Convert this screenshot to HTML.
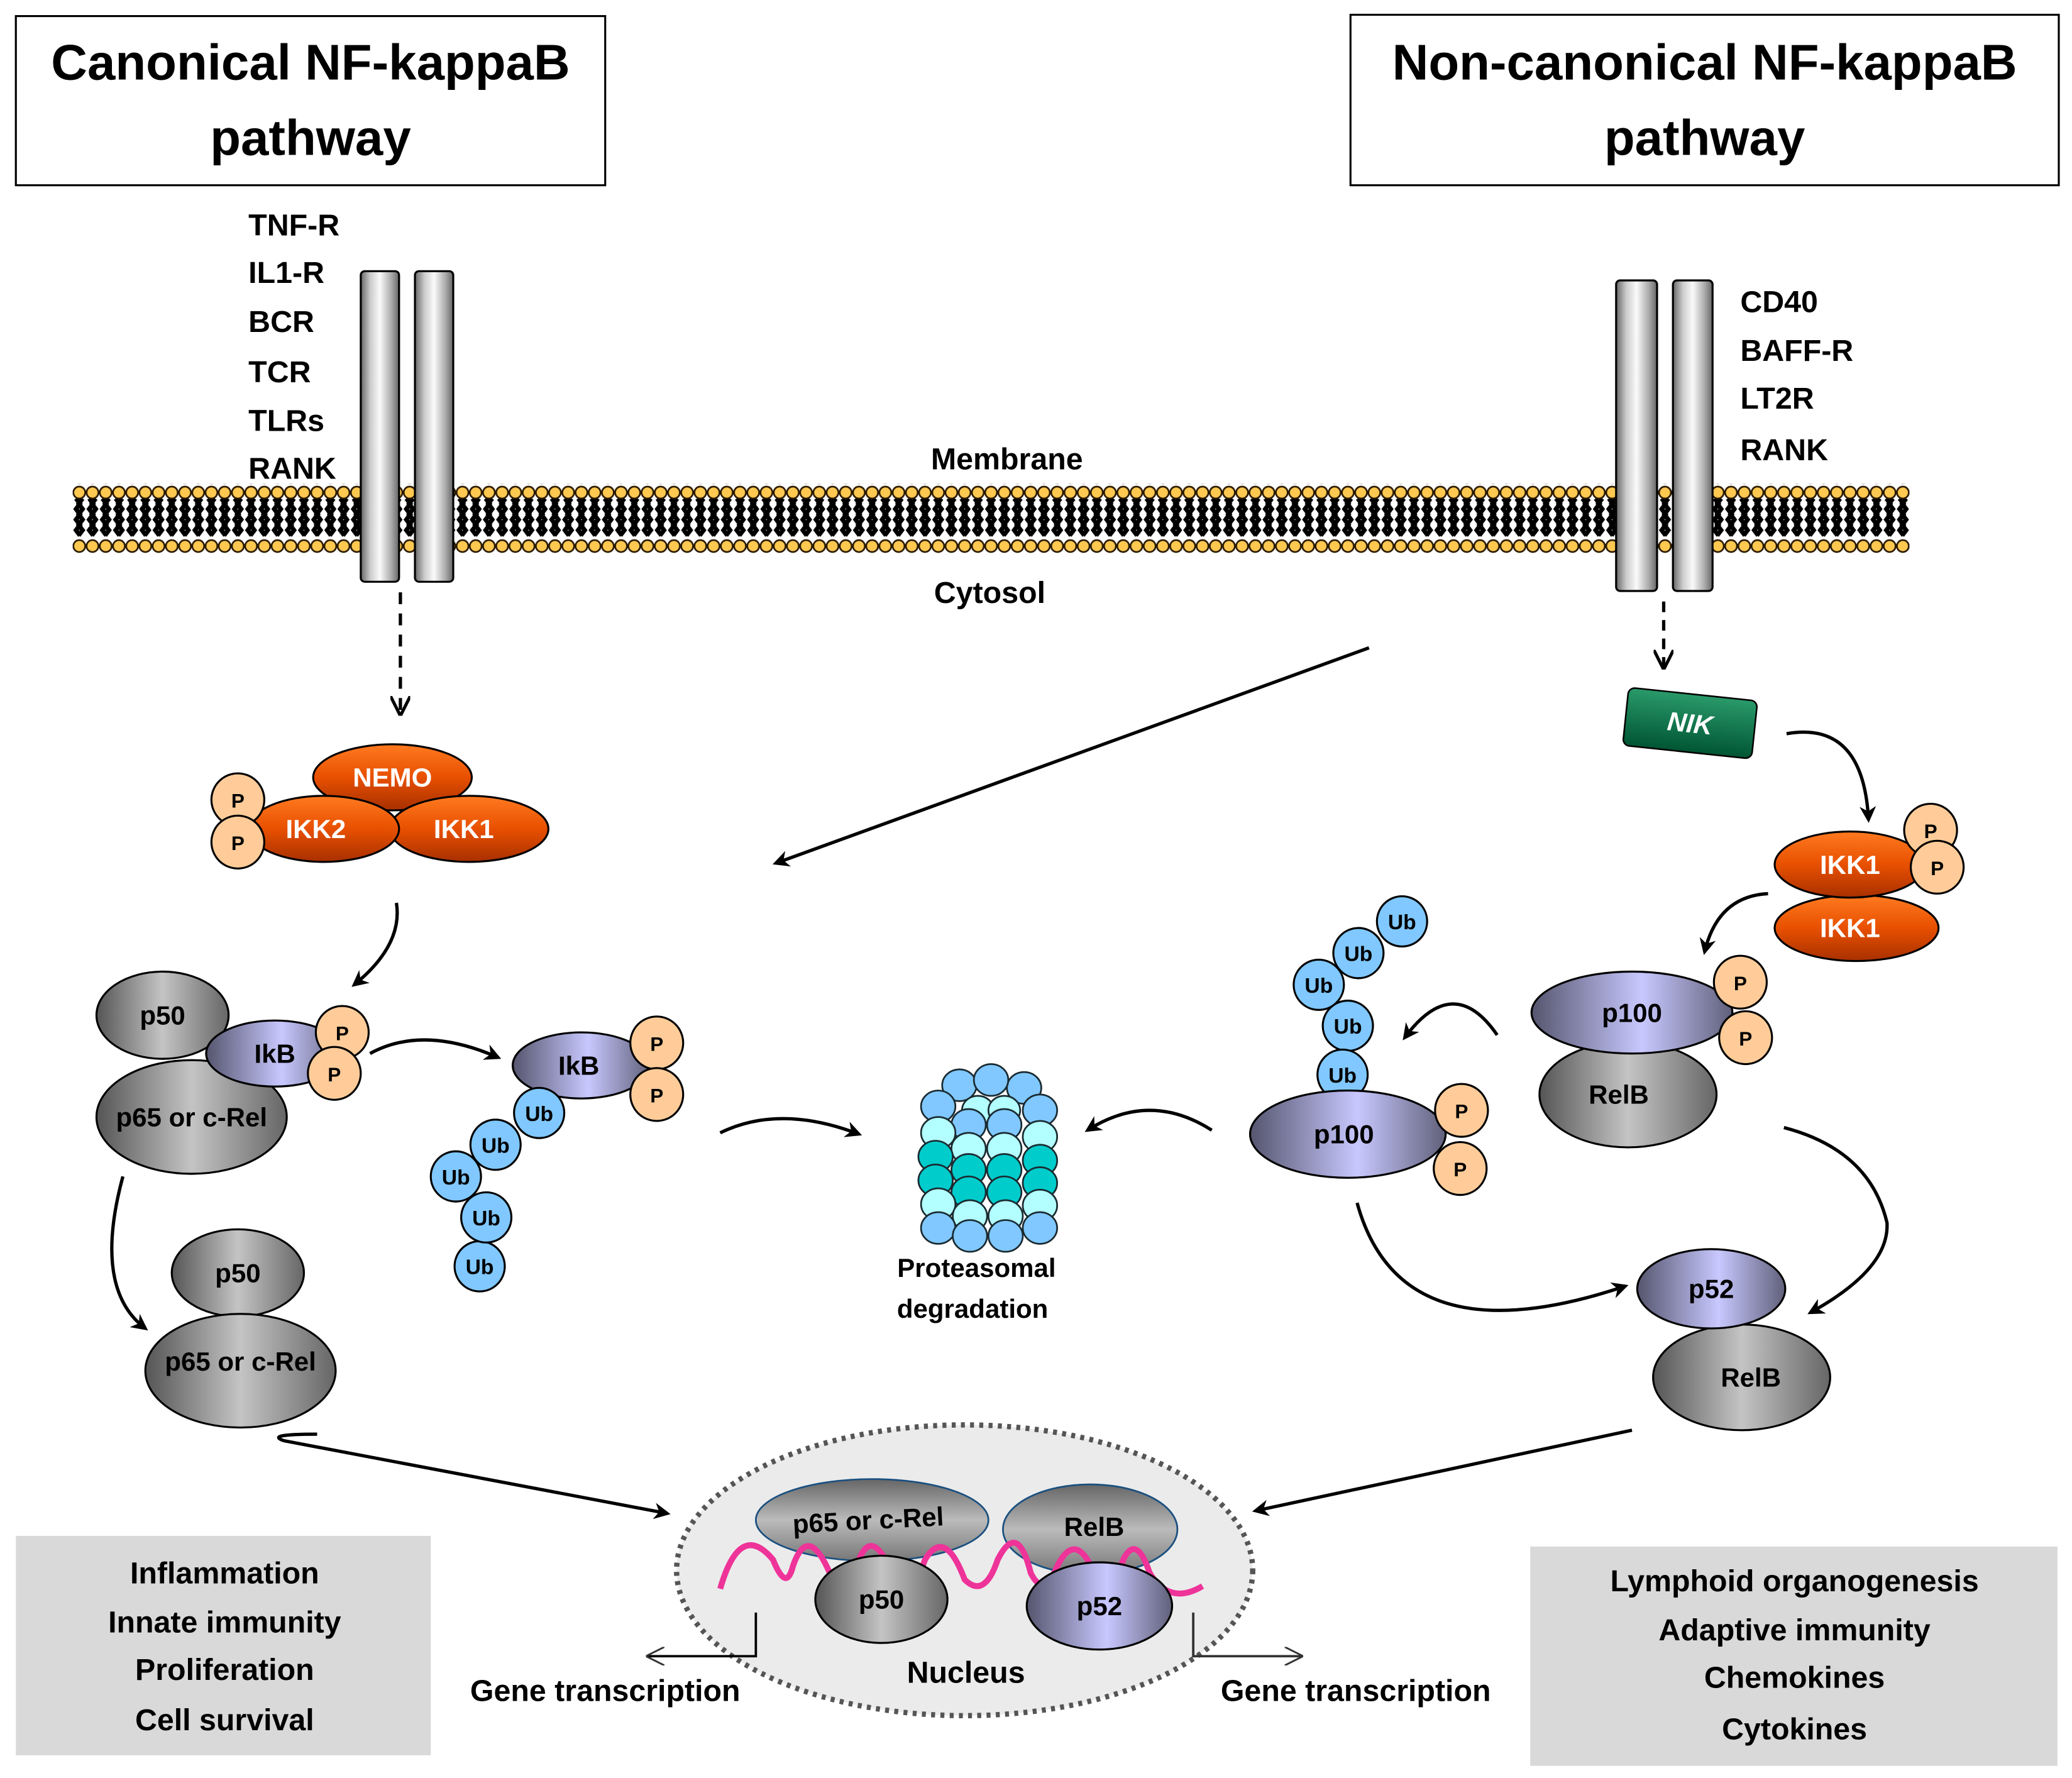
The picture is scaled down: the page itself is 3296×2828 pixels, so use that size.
<!DOCTYPE html>
<html><head><meta charset="utf-8"><style>
html,body{margin:0;padding:0;background:#fff;}
svg{display:block;}
text{font-family:"Liberation Sans","DejaVu Sans",sans-serif;font-weight:bold;}
</style></head><body>
<svg width="3296" height="2828" viewBox="0 0 1568 1345" xmlns="http://www.w3.org/2000/svg">
<defs>
<pattern id="mem" x="55" y="367" width="10" height="52" patternUnits="userSpaceOnUse">
<path d="M2.5,10 l3,4 l-3,4 l3,4 l-3,4 l3,4 l-3,4 l3,4 M7.5,10 l-3,4 l3,4 l-3,4 l3,4 l-3,4 l3,4 l-3,4" stroke="#000" stroke-width="3.4" fill="none"/>
<circle cx="5" cy="5.5" r="4.5" fill="#ffc850" stroke="#2a1a00" stroke-width="1.3"/>
<circle cx="5" cy="46" r="4.5" fill="#ffc850" stroke="#2a1a00" stroke-width="1.3"/>
</pattern>
<linearGradient id="cyl" x1="0" x2="1"><stop offset="0" stop-color="#666"/><stop offset="0.25" stop-color="#ccc"/><stop offset="0.5" stop-color="#fafafa"/><stop offset="0.8" stop-color="#aaa"/><stop offset="1" stop-color="#666"/></linearGradient>
<linearGradient id="gray" x1="0" x2="1"><stop offset="0" stop-color="#555"/><stop offset="0.5" stop-color="#c4c4c4"/><stop offset="1" stop-color="#666"/></linearGradient>
<linearGradient id="grayv" x1="0" y1="0" x2="0" y2="1"><stop offset="0" stop-color="#666"/><stop offset="0.5" stop-color="#bbb"/><stop offset="1" stop-color="#777"/></linearGradient>
<linearGradient id="pur" x1="0" x2="1"><stop offset="0" stop-color="#55556e"/><stop offset="0.55" stop-color="#c8c8ff"/><stop offset="1" stop-color="#60607a"/></linearGradient>
<linearGradient id="org" x1="0" y1="0" x2="0" y2="1"><stop offset="0" stop-color="#ff7a20"/><stop offset="0.5" stop-color="#e85000"/><stop offset="1" stop-color="#a83000"/></linearGradient>
<linearGradient id="grn" x1="0" y1="0" x2="0" y2="1"><stop offset="0" stop-color="#2a9a6a"/><stop offset="1" stop-color="#005533"/></linearGradient>
<marker id="ah" viewBox="0 0 10 10" refX="8" refY="5" markerWidth="5" markerHeight="5" orient="auto"><path d="M0,0 L10,5 L0,10 L3,5z" fill="#000"/></marker>
<marker id="av" viewBox="0 0 10 10" refX="9" refY="5" markerWidth="6" markerHeight="6" orient="auto"><path d="M0,0 L10,5 L0,10" fill="none" stroke="#000" stroke-width="1.6"/></marker>
<marker id="ao" viewBox="0 0 12 12" refX="11" refY="6" markerWidth="14" markerHeight="14" orient="auto" markerUnits="userSpaceOnUse"><path d="M0,0 L12,6 L0,12" fill="none" stroke="#333" stroke-width="1.2"/></marker>
</defs>

<rect x="12" y="12" width="446" height="128" fill="#fff" stroke="#000" stroke-width="1.5"/>
<text x="235" y="60" font-size="38" text-anchor="middle">Canonical NF-kappaB</text>
<text x="235" y="117" font-size="38" text-anchor="middle">pathway</text>
<rect x="1022" y="11" width="536" height="129" fill="#fff" stroke="#000" stroke-width="1.5"/>
<text x="1290" y="60" font-size="38" text-anchor="middle">Non-canonical NF-kappaB</text>
<text x="1290" y="117" font-size="38" text-anchor="middle">pathway</text>

<g font-size="23">
<text x="188" y="178">TNF-R</text><text x="188" y="214">IL1-R</text><text x="188" y="251">BCR</text>
<text x="188" y="289">TCR</text><text x="188" y="326">TLRs</text><text x="188" y="362">RANK</text>
<text x="1317" y="236">CD40</text><text x="1317" y="273">BAFF-R</text><text x="1317" y="309">LT2R</text><text x="1317" y="348">RANK</text>
<text x="762" y="355" text-anchor="middle">Membrane</text>
<text x="749" y="456" text-anchor="middle">Cytosol</text>
</g>

<rect x="55" y="366" width="1390" height="53" fill="url(#mem)"/>
<rect x="273" y="205" width="29" height="235" rx="3" fill="url(#cyl)" stroke="#000" stroke-width="1.5"/>
<rect x="314" y="205" width="29" height="235" rx="3" fill="url(#cyl)" stroke="#000" stroke-width="1.5"/>
<rect x="1223" y="212" width="31" height="235" rx="3" fill="url(#cyl)" stroke="#000" stroke-width="1.5"/>
<rect x="1266" y="212" width="30" height="235" rx="3" fill="url(#cyl)" stroke="#000" stroke-width="1.5"/>

<g stroke="#000" stroke-width="2.5" fill="none">
<path d="M303,448 V540" stroke-dasharray="9,7" marker-end="url(#av)"/>
<path d="M1259,455 V505" stroke-dasharray="8,6" marker-end="url(#av)"/>
<path d="M1036,490 L587,653" marker-end="url(#ah)"/>
<path d="M300,683 Q305,715 268,745" marker-end="url(#ah)"/>
<path d="M280,797 Q320,775 377,800" marker-end="url(#ah)"/>
<path d="M545,857 Q590,835 650,858" marker-end="url(#ah)"/>
<path d="M917,855 Q870,825 823,855" marker-end="url(#ah)"/>
<path d="M1352,555 Q1410,545 1414,620" marker-end="url(#ah)"/>
<path d="M1338,676 Q1300,678 1290,720" marker-end="url(#ah)"/>
<path d="M1133,783 Q1100,735 1063,785" marker-end="url(#ah)"/>
<path d="M1027,910 Q1060,1030 1230,973" marker-end="url(#ah)"/>
<path d="M1350,853 Q1415,870 1428,925 Q1430,960 1370,993" marker-end="url(#ah)"/>
<path d="M93,890 Q70,975 110,1005" marker-end="url(#ah)"/>
<path d="M240,1085 Q200,1085 215,1090 L505,1145" marker-end="url(#ah)"/>
<path d="M1235,1082 L950,1143" marker-end="url(#ah)"/>
</g>

<g stroke="#000" stroke-width="1.5">
<ellipse cx="297" cy="588" rx="60" ry="25" fill="url(#org)"/>
<ellipse cx="355" cy="627" rx="60" ry="25" fill="url(#org)"/>
<ellipse cx="245" cy="627" rx="57" ry="25" fill="url(#org)"/>
<circle cx="180" cy="605" r="20" fill="#ffcc99"/><circle cx="180" cy="637" r="20" fill="#ffcc99"/>
</g>
<g font-size="20" fill="#fff" text-anchor="middle"><text x="297" y="595">NEMO</text><text x="239" y="634">IKK2</text><text x="351" y="634">IKK1</text></g>
<g font-size="15" text-anchor="middle"><text x="180" y="611">P</text><text x="180" y="643">P</text></g>

<g stroke="#000" stroke-width="1.5">
<ellipse cx="123" cy="768" rx="50" ry="33" fill="url(#gray)"/>
<ellipse cx="145" cy="845" rx="72" ry="43" fill="url(#gray)"/>
<ellipse cx="208" cy="797" rx="52" ry="25" fill="url(#pur)"/>
<circle cx="259" cy="781" r="20" fill="#ffcc99"/><circle cx="253" cy="812" r="20" fill="#ffcc99"/>
<ellipse cx="440" cy="806" rx="52" ry="25" fill="url(#pur)"/>
<circle cx="497" cy="789" r="20" fill="#ffcc99"/><circle cx="497" cy="828" r="20" fill="#ffcc99"/>
<g fill="#80c8ff"><circle cx="363" cy="958" r="19"/><circle cx="368" cy="921" r="19"/><circle cx="345" cy="890" r="19"/><circle cx="375" cy="866" r="19"/><circle cx="408" cy="842" r="19"/></g>
<ellipse cx="180" cy="963" rx="50" ry="33" fill="url(#gray)"/>
<ellipse cx="182" cy="1037" rx="72" ry="43" fill="url(#gray)"/>
</g>
<g font-size="20" text-anchor="middle">
<text x="123" y="775">p50</text><text x="145" y="852">p65 or c-Rel</text><text x="208" y="804">IkB</text><text x="438" y="813">IkB</text>
<text x="180" y="970">p50</text><text x="182" y="1037">p65 or c-Rel</text>
</g>
<g font-size="15" text-anchor="middle"><text x="259" y="787">P</text><text x="253" y="818">P</text><text x="497" y="795">P</text><text x="497" y="834">P</text></g>
<g font-size="16" text-anchor="middle"><text x="363" y="964">Ub</text><text x="368" y="927">Ub</text><text x="345" y="896">Ub</text><text x="375" y="872">Ub</text><text x="408" y="848">Ub</text></g>

<!-- proteasome -->
<g stroke="#1a2a30" stroke-width="1.3">
<g fill="#80c8ff"><ellipse cx="726" cy="821" rx="13" ry="12"/><ellipse cx="775" cy="823" rx="13" ry="12"/><ellipse cx="750" cy="817" rx="13" ry="12"/></g>
<g fill="#b3ffff"><ellipse cx="740" cy="840" rx="12" ry="11"/><ellipse cx="760" cy="840" rx="12" ry="11"/></g>
<g fill="#80c8ff"><ellipse cx="710" cy="837" rx="13" ry="12"/><ellipse cx="787" cy="840" rx="13" ry="12"/><ellipse cx="733" cy="851" rx="13" ry="12"/><ellipse cx="760" cy="851" rx="13" ry="12"/></g>
<g fill="#b3ffff"><ellipse cx="710" cy="857" rx="13" ry="12"/><ellipse cx="787" cy="860" rx="13" ry="12"/><ellipse cx="733" cy="869" rx="13" ry="12"/><ellipse cx="760" cy="869" rx="13" ry="12"/></g>
<g fill="#00cccc"><ellipse cx="708" cy="875" rx="13" ry="12"/><ellipse cx="787" cy="878" rx="13" ry="12"/><ellipse cx="733" cy="885" rx="13" ry="12"/><ellipse cx="760" cy="885" rx="13" ry="12"/>
<ellipse cx="708" cy="893" rx="13" ry="12"/><ellipse cx="787" cy="895" rx="13" ry="12"/><ellipse cx="733" cy="902" rx="13" ry="12"/><ellipse cx="760" cy="902" rx="13" ry="12"/></g>
<g fill="#b3ffff"><ellipse cx="710" cy="911" rx="13" ry="12"/><ellipse cx="787" cy="912" rx="13" ry="12"/><ellipse cx="734" cy="920" rx="13" ry="12"/><ellipse cx="761" cy="920" rx="13" ry="12"/></g>
<g fill="#80c8ff"><ellipse cx="710" cy="929" rx="13" ry="12"/><ellipse cx="787" cy="929" rx="13" ry="12"/><ellipse cx="734" cy="935" rx="13" ry="12"/><ellipse cx="761" cy="935" rx="13" ry="12"/></g>
</g>
<g font-size="20" text-anchor="middle"><text x="739" y="966">Proteasomal</text><text x="736" y="997">degradation</text></g>

<g transform="rotate(6 1279 547)"><rect x="1230" y="525" width="98" height="44" rx="5" fill="url(#grn)" stroke="#000" stroke-width="1.2"/></g>
<text x="1279" y="554" font-size="20" fill="#fff" font-style="italic" text-anchor="middle" transform="rotate(6 1279 547)">NIK</text>
<g stroke="#000" stroke-width="1.5">
<ellipse cx="1405" cy="702" rx="62" ry="25" fill="url(#org)"/>
<ellipse cx="1400" cy="654" rx="57" ry="25" fill="url(#org)"/>
<circle cx="1461" cy="628" r="20" fill="#ffcc99"/><circle cx="1466" cy="656" r="20" fill="#ffcc99"/>
<ellipse cx="1232" cy="828" rx="67" ry="40" fill="url(#gray)"/>
<ellipse cx="1235" cy="766" rx="76" ry="31" fill="url(#pur)"/>
<circle cx="1317" cy="743" r="20" fill="#ffcc99"/><circle cx="1321" cy="785" r="20" fill="#ffcc99"/>
<g fill="#80c8ff"><circle cx="1061" cy="697" r="19"/><circle cx="1028" cy="721" r="19"/><circle cx="998" cy="745" r="19"/><circle cx="1020" cy="776" r="19"/><circle cx="1016" cy="813" r="19"/></g>
<ellipse cx="1020" cy="858" rx="74" ry="33" fill="url(#pur)"/>
<circle cx="1106" cy="840" r="20" fill="#ffcc99"/><circle cx="1105" cy="884" r="20" fill="#ffcc99"/>
<ellipse cx="1318" cy="1042" rx="67" ry="40" fill="url(#gray)"/>
<ellipse cx="1295" cy="975" rx="56" ry="30" fill="url(#pur)"/>
</g>
<g font-size="20" text-anchor="middle">
<text x="1400" y="661" fill="#fff">IKK1</text><text x="1400" y="709" fill="#fff">IKK1</text>
<text x="1235" y="773">p100</text><text x="1225" y="835">RelB</text><text x="1017" y="865">p100</text>
<text x="1295" y="982">p52</text><text x="1325" y="1049">RelB</text>
</g>
<g font-size="15" text-anchor="middle"><text x="1461" y="634">P</text><text x="1466" y="662">P</text><text x="1317" y="749">P</text><text x="1321" y="791">P</text><text x="1106" y="846">P</text><text x="1105" y="890">P</text></g>
<g font-size="16" text-anchor="middle"><text x="1061" y="703">Ub</text><text x="1028" y="727">Ub</text><text x="998" y="751">Ub</text><text x="1020" y="782">Ub</text><text x="1016" y="819">Ub</text></g>

<ellipse cx="730" cy="1188" rx="218" ry="110" fill="#ebebeb" stroke="#555" stroke-width="4" stroke-dasharray="3,4"/>
<g stroke-width="1.3">
<ellipse cx="660" cy="1150" rx="88" ry="31" fill="url(#grayv)" stroke="#1a5080"/>
<ellipse cx="825" cy="1157" rx="66" ry="34" fill="url(#grayv)" stroke="#1a5080"/>
</g>
<path d="M545,1202 Q560,1150 585,1180 Q595,1205 600,1185 Q612,1150 630,1195 Q640,1210 650,1180 Q660,1155 675,1190 Q690,1210 700,1180 Q715,1155 730,1195 Q745,1210 755,1180 Q770,1150 780,1190 Q790,1210 800,1185 Q815,1155 830,1195 Q840,1210 850,1180 Q860,1160 870,1190 Q885,1215 910,1200" fill="none" stroke="#ee3399" stroke-width="4.5"/>
<g stroke="#000" stroke-width="1.5">
<ellipse cx="667" cy="1210" rx="50" ry="33" fill="url(#gray)"/>
<ellipse cx="832" cy="1215" rx="55" ry="33" fill="url(#pur)"/>
</g>
<g font-size="20" text-anchor="middle"><text x="657" y="1157" transform="rotate(-3 657 1150)">p65 or c-Rel</text><text x="828" y="1162">RelB</text><text x="667" y="1217">p50</text><text x="832" y="1222">p52</text></g>
<text x="731" y="1273" font-size="23" text-anchor="middle">Nucleus</text>

<g fill="none" stroke-width="1.8">
<path d="M572,1220 V1253 H490" stroke="#000" marker-end="url(#ao)"/>
<path d="M903,1220 V1253 H985" stroke="#333" marker-end="url(#ao)"/>
</g>
<g font-size="23" text-anchor="middle"><text x="458" y="1287">Gene transcription</text><text x="1026" y="1287">Gene transcription</text></g>

<rect x="12" y="1162" width="314" height="166" fill="#d9d9d9"/>
<g font-size="23" text-anchor="middle"><text x="170" y="1198">Inflammation</text><text x="170" y="1235">Innate immunity</text><text x="170" y="1271">Proliferation</text><text x="170" y="1309">Cell survival</text></g>
<rect x="1158" y="1170" width="399" height="166" fill="#d9d9d9"/>
<g font-size="23" text-anchor="middle"><text x="1358" y="1204">Lymphoid organogenesis</text><text x="1358" y="1241">Adaptive immunity</text><text x="1358" y="1277">Chemokines</text><text x="1358" y="1316">Cytokines</text></g>
</svg>
</body></html>
